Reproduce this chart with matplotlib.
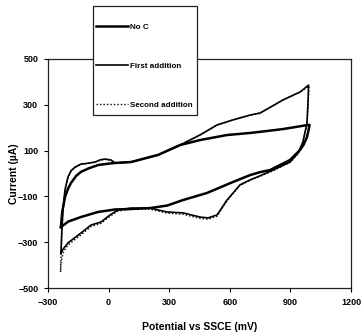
import matplotlib
matplotlib.use("Agg")
import matplotlib.pyplot as plt
from matplotlib.patches import Rectangle

plt.rcParams['font.family'] = ['Liberation Sans', 'DejaVu Sans']
plt.rcParams['font.weight'] = 'bold'

# No C (inner loop), starting at the cathodic turn, forward scan first
noc_x = [-236, -230, -216, -200, -186, -160, -137, -100, -52, 0, 32, 111, 205, 245, 353,
         452, 586, 700, 750, 863, 987, 995,
         990, 982, 965, 948, 898, 799, 750, 700, 616, 487, 368, 290, 205, 111, 32,
         -52, -137, -200, -236]
noc_y = [-234, -170, -103, -65, -41, -10, 7, 22, 37, 43, 46, 50, 72, 81, 124,
         146, 168, 177, 182, 194, 212, 212,
         190, 159, 125, 103, 59, 15, 6, -7, -37, -85, -116, -140, -151, -155, -157,
         -168, -190, -210, -234]

# First addition (outer loop)
fa_x = [-236, -232, -226, -216, -201, -186, -166, -137, -100, -67, -40, -18, 12, 32, 111,
        205, 245, 353, 452, 537, 616, 700, 750, 863, 948, 990,
        987, 982, 962, 938, 898, 814, 750, 700, 650, 586, 537, 492, 452, 368, 289,
        205, 111, 47, 7, -38, -87, -137, -201, -225, -236]
fa_y = [-350, -260, -159, -72, -15, 12, 28, 41, 45, 50, 60, 63, 59, 46, 50,
        72, 81, 124, 168, 212, 234, 255, 264, 321, 356, 386,
        308, 220, 138, 89, 50, 15, -10, -28, -50, -116, -181, -194, -190, -172, -168,
        -151, -151, -159, -181, -212, -225, -260, -303, -330, -347]

# Second addition (dotted, almost on top of the first addition)
sa_x = [-238, -236, -232, -226, -216, -201, -186, -166, -137, -100, -67, -40, -18, 12, 32, 111,
        205, 245, 353, 452, 537, 616, 700, 750, 863, 948, 992,
        988, 982, 962, 938, 898, 814, 750, 700, 650, 586, 537, 492, 452, 368, 289,
        205, 111, 47, 7, -38, -87, -137, -201, -225, -236, -238]
sa_y = [-430, -380, -270, -165, -75, -18, 10, 26, 40, 44, 50, 58, 62, 57, 46, 50,
        72, 81, 124, 168, 212, 234, 255, 264, 321, 356, 382,
        300, 215, 135, 87, 48, 12, -12, -30, -52, -120, -186, -200, -196, -178, -173,
        -156, -156, -164, -187, -218, -232, -268, -312, -345, -390, -430]

xticks = [-300, 0, 300, 600, 900, 1200]
yticks = [-500, -300, -100, 100, 300, 500]

W, H = 364, 334
fig = plt.figure(figsize=(W / 100, H / 100), dpi=100)
ax = fig.add_axes([48 / W, 1 - 288 / H, 303 / W, 229 / H])

ax.plot(noc_x, noc_y, color='black', lw=1.8, label='No C')
ax.plot(fa_x, fa_y, color='black', lw=1.2, label='First addition')
ax.plot(sa_x, sa_y, color='black', lw=1.0, linestyle=(0, (1, 1.5)), label='Second addition')

ax.set_xlim(-300, 1200)
ax.set_ylim(-500, 500)
ax.set_xticks(xticks)
ax.set_yticks(yticks)
ax.tick_params(direction='out', length=3, width=0.8, labelsize=6.5, pad=4)
for lab in ax.get_xticklabels() + ax.get_yticklabels():
    lab.set_fontweight('bold')
for s in ax.spines.values():
    s.set_linewidth(0.9)
    s.set_color('#222222')

ax.set_xlabel('Potential vs SSCE (mV)', fontsize=7.5, fontweight='bold', va='center')
ax.xaxis.set_label_coords(0.5, (288 - 327) / 229)
ax.set_ylabel('Current (\u00b5A)', fontsize=7.5, fontweight='bold', va='center')
ax.yaxis.set_label_coords((14 - 48) / 303, 0.5)

# legend box sits over the top of the axes
box = Rectangle((93 / W, 1 - 115 / H), 104 / W, 109 / H, transform=fig.transFigure,
                facecolor='white', edgecolor='#222222', lw=0.9, zorder=3)
fig.patches.append(box)

leg = fig.legend(loc='upper left', bbox_to_anchor=(96 / W, 1 - 23 / H), fontsize=5.8,
                 frameon=False, handlelength=4.0, handletextpad=0.25, labelspacing=3.9,
                 borderpad=0, borderaxespad=0)
leg.set_zorder(4)
for t in leg.get_texts():
    t.set_fontweight('bold')

fig.savefig('out.png', dpi=100)
